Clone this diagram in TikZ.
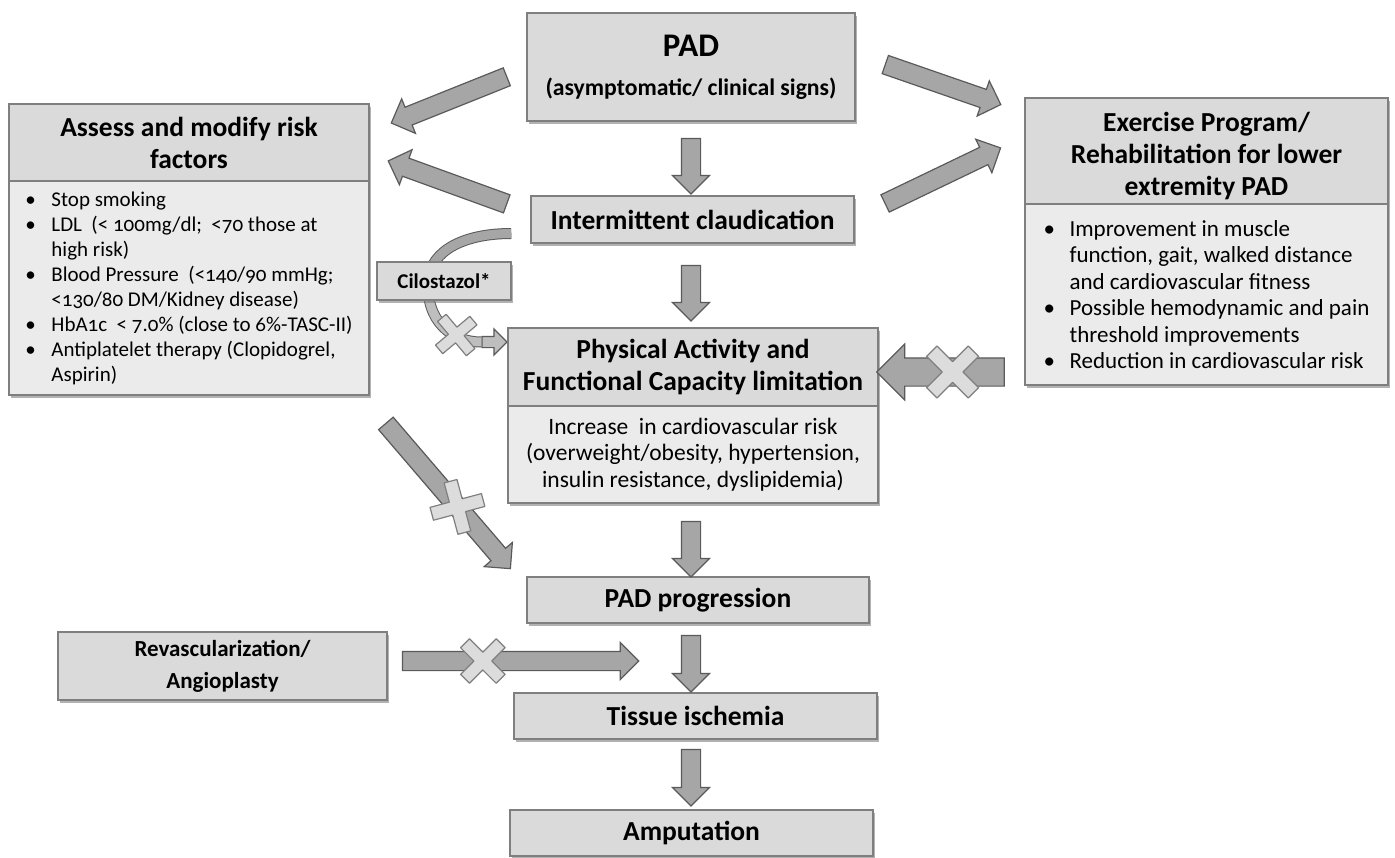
\documentclass[tikz,border=0pt]{standalone}
\usepackage{fontspec}
\setmainfont{Carlito}[Numbers=OldStyle]
\usetikzlibrary{shapes.arrows,shadows,calc,positioning,backgrounds}

\definecolor{headfill}{HTML}{DADADA}
\definecolor{bodyfill}{HTML}{EBEBEB}
\definecolor{boxline}{HTML}{7F7F7F}
\definecolor{arrowfill}{HTML}{A6A6A6}
\definecolor{arrowlight}{HTML}{BEBEBE}
\definecolor{arrowline}{HTML}{5A5A5A}
\definecolor{crossfill}{HTML}{DCDCDC}

\tikzset{
  boxbase/.style={draw=boxline, line width=1.5pt,
    drop shadow={shadow xshift=2pt, shadow yshift=-3pt, opacity=0.55, fill=black!55}},
  headbox/.style={boxbase, fill=headfill, align=center, inner sep=2pt,
    font=\bfseries\fontsize{27.5}{32}\selectfont},
  bodybox/.style={boxbase, fill=bodyfill, align=left, inner sep=2pt,
    font=\fontsize{21}{25}\selectfont},
  barrow/.style={single arrow, draw=arrowline, fill=arrowfill, line width=1.2pt,
    inner xsep=0pt, inner ysep=9pt, single arrow head extend=9pt,
    minimum width=0pt, outer sep=0pt},
  widearrow/.style={inner ysep=13.5pt, single arrow head extend=14pt},
  smallhead/.style={inner ysep=5pt, single arrow head extend=7.5pt, fill=arrowlight},
  cband/.style={draw=arrowline, line width=1pt, double=arrowfill, double distance=9pt},
  xmark/.style={draw=boxline, fill=crossfill, line width=1.2pt, line join=round}
}

% block arrow from one named coordinate to another
\newcommand{\blockarrow}[3][]{%
  \path let \p1=(#2), \p2=(#3),
    \n1={veclen(\x2-\x1,\y2-\y1)}, \n2={atan2(\y2-\y1,\x2-\x1)} in
    node[barrow, minimum height=\n1, rotate=\n2, #1] (arr-#2) at ($(#2)!0.5!(#3)$) {};}

% cross over a blocked arrow
\newcommand{\crossmark}[3]{%
  \begin{scope}[shift={(#1)}, rotate=#2, scale=#3]
    \filldraw[xmark] (-7,-28) -- (7,-28) -- (7,-7) -- (28,-7) -- (28,7) -- (7,7)
      -- (7,28) -- (-7,28) -- (-7,7) -- (-28,7) -- (-28,-7) -- (-7,-7) -- cycle;
  \end{scope}}

\newcommand{\bul}{\makebox[26pt][l]{\textbullet}}
\newcommand{\ind}{\hspace*{26pt}}

\begin{document}
\begin{tikzpicture}[x=1pt, y=-1pt]
\useasboundingbox (0,0) rectangle (1395,857);

% main column
\node[headbox, minimum width=328pt, minimum height=108pt,
  font=\bfseries\fontsize{23.7}{39}\selectfont] (pad) at (691,67)
  {{\fontsize{33}{39}\selectfont PAD}\\(asymptomatic/ clinical signs)};
\node[headbox, minimum width=323pt, minimum height=47pt] (ic) at (692.5,219.5)
  {Intermittent claudication};
\node[headbox, minimum width=370pt, minimum height=78pt] (pahead) at (693,367)
  {Physical Activity and\\Functional Capacity limitation};
\node[bodybox, align=center, minimum width=370pt, minimum height=97pt,
  font=\fontsize{23.5}{26.5}\selectfont, below=-1.5pt of pahead] (pabody)
  {Increase~ in cardiovascular risk\\(overweight/obesity, hypertension,\\insulin resistance, dyslipidemia)};
\node[headbox, minimum width=342pt, minimum height=46pt] (prog) at (698,600) {PAD progression};
\node[headbox, minimum width=363pt, minimum height=46pt] (tissue) at (695.5,716) {Tissue ischemia};
\node[headbox, minimum width=363pt, minimum height=46pt] (amp) at (691.5,833) {Amputation};

% left side
\node[headbox, minimum width=360pt, minimum height=77pt] (asshead) at (189,142.5)
  {Assess and modify risk\\factors};
\node[bodybox, minimum width=360pt, minimum height=214pt, below=-1.5pt of asshead] (assbody)
  {\bul Stop smoking\\
   \bul LDL~ (< 100mg/dl;~ <70 those at\\
   \ind high risk)\\
   \bul Blood Pressure~ (<140/90 mmHg;\\
   \ind <130/80 DM/Kidney disease)\\
   \bul HbA1c~ < 7.0\% (close to 6\%-TASC-II)\\
   \bul Antiplatelet therapy (Clopidogrel,\\
   \ind Aspirin)};
\node[headbox, minimum width=134pt, minimum height=38pt,
  font=\bfseries\fontsize{21}{24}\selectfont] (cilo) at (444,281) {Cilostazol*};
\node[headbox, minimum width=329pt, minimum height=68pt,
  font=\bfseries\fontsize{23}{32}\selectfont] (revasc) at (222.5,666)
  {Revascularization/\\Angioplasty};

% right side
\node[headbox, minimum width=363pt, minimum height=106pt] (exhead) at (1206.5,151)
  {\rule{0pt}{30pt}Exercise Program/\\Rehabilitation for lower\\extremity PAD};
\node[bodybox, minimum width=363pt, minimum height=181pt,
  font=\fontsize{23}{26.5}\selectfont, below=-1.5pt of exhead] (exbody)
  {\bul Improvement in muscle\\
   \ind function, gait, walked distance\\
   \ind and cardiovascular fitness\\
   \bul Possible hemodynamic and pain\\
   \ind threshold improvements\\
   \bul Reduction in cardiovascular risk};

% arrow ends
\coordinate (a1t) at ($(pad.west)+(-15,8)$);
\coordinate (a1h) at ($(asshead.north east)+(26,18)$);
\coordinate (a2t) at ($(ic.west)+(-19,-14)$);
\coordinate (a2h) at ($(asshead.east)+(23,20)$);
\coordinate (a3t) at ($(pad.east)+(25,-4)$);
\coordinate (a3h) at ($(exhead.west)+(-28,-48)$);
\coordinate (a4t) at ($(ic.east)+(26,-14)$);
\coordinate (a4h) at ($(exhead.west)+(-28,-1)$);
\coordinate (v1t) at ($(pad.south)+(0,12)$);
\coordinate (v1h) at ($(pad.south |- ic.north)+(0,-6)$);
\coordinate (v2t) at ($(pad.south |- ic.south)+(0,17)$);
\coordinate (v2h) at ($(pad.south |- pahead.north)+(0,-11)$);
\coordinate (v3t) at ($(pad.south |- pabody.south)+(0,13)$);
\coordinate (v3h) at ($(pad.south |- prog.north)+(0,-4)$);
\coordinate (v4t) at ($(pad.south |- prog.south)+(0,7)$);
\coordinate (v4h) at ($(pad.south |- tissue.north)+(0,-5)$);
\coordinate (v5t) at ($(pad.south |- tissue.south)+(0,5)$);
\coordinate (v5h) at ($(pad.south |- amp.north)+(0,-8)$);
\coordinate (a7t) at ($(exbody.west |- pahead.east)+(-13,5)$);
\coordinate (a7h) at ($(pahead.east)+(5,5)$);
\coordinate (a8t) at ($(assbody.south east)+(13,24)$);
\coordinate (a8h) at ($(prog.west)+(-19,-35)$);
\coordinate (a9t) at ($(revasc.east)+(10,-5)$);
\coordinate (a9h) at ($(pad.south |- a9t)+(-57,0)$);
\coordinate (ct) at ($(ic.west)+(-19,14)$);
\coordinate (cm) at ($(cilo.center)+(-16,0)$);
\coordinate (chb) at ($(pahead.west)+(-26,-25)$);
\coordinate (chs) at ($(pahead.west)+(-28,-25)$);
\coordinate (ctip) at ($(pahead.west)+(-3,-25)$);
\coordinate (cx) at ($(pahead.west)+(-51,-32)$);

\blockarrow{a1t}{a1h}
\blockarrow{a2t}{a2h}
\blockarrow{a3t}{a3h}
\blockarrow{a4t}{a4h}
\blockarrow{v1t}{v1h}
\blockarrow{v2t}{v2h}
\blockarrow{v3t}{v3h}
\blockarrow{v4t}{v4h}
\blockarrow{v5t}{v5h}
\blockarrow[widearrow]{a7t}{a7h}
\blockarrow{a8t}{a8h}
\blockarrow{a9t}{a9h}

% cilostazol bend, behind its box
\begin{pgfonlayer}{background}
  \draw[cband] (ct) .. controls +(-45,0) and +(3,-32) .. (cm);
  \blockarrow[smallhead]{chs}{ctip}
  \draw[cband, double=arrowlight] (cm) .. controls +(-2,40) and +(-30,0) .. (chb);
\end{pgfonlayer}

% blocked pathways
\crossmark{$(a7t)!0.46!(a7h)$}{45}{1.05}
\crossmark{$(a8t)!0.6!(a8h)$}{15}{0.95}
\crossmark{$(a9t)!0.36!(a9h)$}{45}{0.9}
\crossmark{cx}{40}{0.8}

\end{tikzpicture}
\end{document}
